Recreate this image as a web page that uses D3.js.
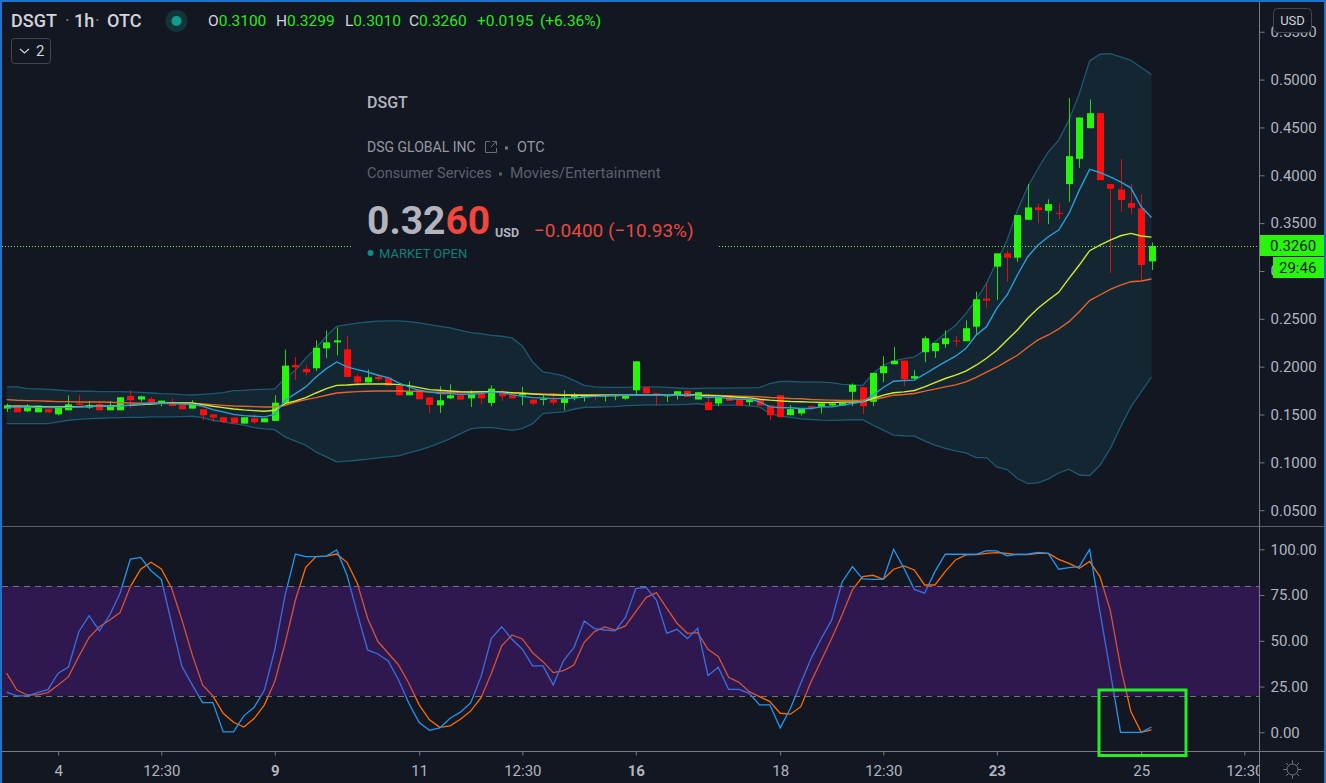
<!DOCTYPE html>
<html>
<head>
<meta charset="utf-8">
<script src="https://cdn.jsdelivr.net/npm/d3@7"></script>
<style>
  html, body { margin: 0; padding: 0; background: #131722; overflow: hidden; }
  text { font-family: Roboto, "Liberation Sans", sans-serif; }
</style>
</head>
<body>
<div id="chart"></div>
<script>
// candles, one value per hourly bar
const opens = [
  .1562,.1596,.1534,.1523,.1555,.1502,.1544,.1614,.1572,.1610,
  .1544,.1544,.1694,.1656,.1662,.1621,.1624,.1600,.1562,.1555,
  .1502,.1471,.1468,.1405,.1461,.1419,.1433,.1621,.2017,.1976,
  .1983,.2191,.2254,.2181,.1899,.1836,.1892,.1885,.1798,.1701,
  .1753,.1680,.1596,.1669,.1701,.1669,.1718,.1621,.1725,.1701,
  .1701,.1656,.1652,.1656,.1621,.1676,.1683,.1708,.1690,.1690,
  .1666,.1753,.1784,.1722,.1690,.1701,.1747,.1657,.1629,.1615,
  .1703,.1657,.1629,.1657,.1594,.1702,.1493,.1511,.1587,.1580,
  .1594,.1594,.1737,.1786,.1633,.1932,.2026,.2064,.1876,.2151,
  .2162,.2235,.2273,.2266,.2418,.2711,.3045,.3184,.3139,.3535,
  .3664,.3629,.3608,.3908,.4172,.4492,.4649,.3908,.3852,.3709,
  .3654,.3100];
const highs = [
  .1614,.1596,.1607,.1593,.1555,.1586,.1701,.1701,.1642,.1642,
  .1642,.1680,.1753,.1697,.1683,.1645,.1669,.1600,.1649,.1555,
  .1502,.1471,.1468,.1471,.1502,.1461,.1701,.2178,.2101,.2014,
  .2275,.2379,.2411,.2317,.1920,.1969,.1927,.1885,.1798,.1847,
  .1753,.1680,.1795,.1816,.1701,.1753,.1718,.1805,.1760,.1701,
  .1788,.1656,.1711,.1701,.1753,.1725,.1711,.1708,.1704,.1711,
  .1701,.2056,.1784,.1722,.1701,.1743,.1747,.1733,.1720,.1685,
  .1703,.1657,.1657,.1657,.1594,.1702,.1598,.1563,.1598,.1615,
  .1615,.1622,.1824,.1786,.1935,.2109,.2207,.2064,.1963,.2318,
  .2248,.2381,.2318,.2485,.2784,.2878,.3184,.3212,.3584,.3908,
  .3706,.3748,.3706,.4809,.4604,.4792,.4649,.3908,.4169,.3908,
  .3803,.3299];
const lows = [
  .1527,.1523,.1527,.1523,.1516,.1492,.1544,.1596,.1558,.1544,
  .1544,.1544,.1562,.1635,.1614,.1586,.1589,.1555,.1562,.1440,
  .1422,.1412,.1408,.1405,.1405,.1419,.1433,.1621,.1864,.1906,
  .1955,.2087,.2118,.1892,.1798,.1836,.1850,.1802,.1701,.1701,
  .1659,.1516,.1516,.1662,.1656,.1579,.1607,.1586,.1642,.1669,
  .1596,.1596,.1596,.1596,.1544,.1649,.1635,.1649,.1635,.1649,
  .1656,.1701,.1722,.1596,.1631,.1656,.1685,.1657,.1546,.1587,
  .1643,.1594,.1594,.1594,.1441,.1473,.1493,.1490,.1553,.1511,
  .1594,.1594,.1587,.1504,.1587,.1838,.2026,.1796,.1859,.2047,
  .2092,.2196,.2214,.2266,.2331,.2617,.2697,.2888,.3097,.3535,
  .3497,.3490,.3539,.3723,.4078,.4492,.3949,.2977,.3619,.3594,
  .2905,.3010];
const closes = [
  .1596,.1523,.1579,.1593,.1523,.1569,.1607,.1600,.1596,.1544,
  .1593,.1680,.1649,.1690,.1628,.1645,.1589,.1555,.1614,.1492,
  .1468,.1422,.1408,.1471,.1419,.1461,.1624,.2011,.1993,.1941,
  .2198,.2254,.2275,.1892,.1836,.1889,.1868,.1802,.1701,.1736,
  .1659,.1600,.1649,.1701,.1656,.1718,.1669,.1770,.1690,.1669,
  .1718,.1614,.1663,.1624,.1676,.1701,.1701,.1694,.1704,.1701,
  .1701,.2056,.1722,.1701,.1701,.1743,.1685,.1733,.1546,.1685,
  .1643,.1594,.1657,.1594,.1493,.1473,.1556,.1563,.1570,.1615,
  .1615,.1622,.1810,.1587,.1935,.2005,.2061,.1869,.1901,.2297,
  .2248,.2297,.2266,.2402,.2704,.2690,.3184,.3139,.3584,.3664,
  .3636,.3699,.3598,.4200,.4604,.4649,.3949,.3859,.3741,.3661,
  .3062,.3260];

// bollinger bands
const bbUpper = [
  .1788,.1788,.1770,.1767,.1763,.1756,.1746,.1743,.1743,.1739,
  .1739,.1739,.1736,.1732,.1725,.1718,.1715,.1708,.1704,.1711,
  .1718,.1729,.1750,.1753,.1760,.1763,.1767,.1879,.1962,.2088,
  .2192,.2318,.2422,.2440,.2454,.2467,.2475,.2478,.2478,.2471,
  .2457,.2440,.2422,.2405,.2380,.2356,.2346,.2328,.2318,.2300,
  .2216,.2049,.1945,.1927,.1903,.1857,.1805,.1788,.1784,.1784,
  .1784,.1788,.1788,.1788,.1784,.1777,.1772,.1772,.1775,.1775,
  .1775,.1779,.1779,.1782,.1824,.1845,.1845,.1841,.1841,.1838,
  .1834,.1814,.1810,.1803,.1928,.2015,.2061,.2085,.2102,.2172,
  .2259,.2346,.2433,.2555,.2700,.2871,.3097,.3323,.3636,.3880,
  .4071,.4245,.4367,.4576,.4854,.5195,.5265,.5272,.5237,.5202,
  .5126,.5053];
const bbLower = [
  .1405,.1405,.1405,.1405,.1405,.1422,.1440,.1450,.1457,.1461,
  .1464,.1468,.1471,.1471,.1475,.1475,.1475,.1478,.1482,.1468,
  .1440,.1422,.1405,.1388,.1363,.1349,.1342,.1266,.1221,.1179,
  .1109,.1057,.1005,.1012,.1022,.1033,.1047,.1057,.1067,.1099,
  .1127,.1161,.1203,.1248,.1301,.1349,.1363,.1363,.1349,.1335,
  .1353,.1405,.1509,.1520,.1527,.1555,.1576,.1576,.1579,.1582,
  .1593,.1596,.1600,.1600,.1600,.1603,.1605,.1615,.1598,.1598,
  .1598,.1598,.1591,.1580,.1511,.1483,.1469,.1455,.1448,.1441,
  .1438,.1441,.1445,.1445,.1389,.1337,.1285,.1278,.1274,.1225,
  .1180,.1145,.1119,.1098,.1050,.1050,.0952,.0925,.0831,.0778,
  .0785,.0827,.0889,.0928,.0868,.0862,.0970,.1144,.1370,.1579,
  .1736,.1892];

// moving averages
const maFast = [
  .1579,.1579,.1579,.1575,.1572,.1572,.1575,.1579,.1582,.1586,
  .1586,.1589,.1600,.1610,.1617,.1617,.1614,.1610,.1607,.1586,
  .1551,.1527,.1502,.1488,.1482,.1475,.1502,.1649,.1718,.1788,
  .1892,.1979,.2049,.1997,.1969,.1944,.1910,.1885,.1830,.1788,
  .1753,.1736,.1718,.1718,.1711,.1711,.1718,.1736,.1729,.1708,
  .1690,.1676,.1673,.1666,.1669,.1673,.1683,.1690,.1694,.1697,
  .1701,.1701,.1701,.1701,.1701,.1701,.1709,.1695,.1678,.1685,
  .1664,.1660,.1660,.1633,.1580,.1573,.1570,.1563,.1563,.1580,
  .1580,.1598,.1615,.1633,.1702,.1782,.1848,.1855,.1859,.1921,
  .1988,.2050,.2109,.2189,.2330,.2418,.2610,.2749,.2958,.3149,
  .3271,.3358,.3427,.3601,.3845,.4061,.4029,.3984,.3932,.3869,
  .3671,.3560];
const maMid = [
  .1586,.1586,.1586,.1582,.1579,.1579,.1582,.1582,.1586,.1586,
  .1589,.1593,.1596,.1603,.1610,.1617,.1621,.1621,.1621,.1603,
  .1586,.1572,.1558,.1548,.1541,.1534,.1544,.1614,.1642,.1676,
  .1725,.1770,.1805,.1809,.1816,.1819,.1819,.1819,.1812,.1802,
  .1781,.1760,.1753,.1746,.1739,.1736,.1739,.1739,.1736,.1729,
  .1722,.1715,.1708,.1704,.1701,.1701,.1701,.1701,.1701,.1701,
  .1701,.1701,.1701,.1701,.1701,.1701,.1709,.1702,.1699,.1695,
  .1688,.1681,.1674,.1660,.1650,.1643,.1636,.1633,.1629,.1626,
  .1626,.1629,.1629,.1633,.1667,.1702,.1727,.1737,.1751,.1789,
  .1834,.1876,.1911,.1953,.2015,.2088,.2171,.2279,.2383,.2505,
  .2610,.2697,.2777,.2923,.3062,.3212,.3271,.3323,.3368,.3393,
  .3365,.3354];
const maSlow = [
  .1656,.1649,.1645,.1642,.1638,.1635,.1635,.1631,.1631,.1631,
  .1628,.1624,.1621,.1617,.1617,.1617,.1617,.1617,.1617,.1610,
  .1603,.1596,.1589,.1586,.1582,.1579,.1579,.1596,.1631,.1656,
  .1676,.1701,.1725,.1732,.1739,.1743,.1746,.1746,.1746,.1743,
  .1743,.1736,.1732,.1732,.1732,.1736,.1736,.1739,.1732,.1725,
  .1722,.1718,.1715,.1711,.1708,.1708,.1704,.1704,.1704,.1701,
  .1701,.1701,.1701,.1701,.1701,.1701,.1706,.1702,.1702,.1699,
  .1695,.1692,.1688,.1685,.1678,.1674,.1667,.1664,.1657,.1653,
  .1650,.1647,.1647,.1650,.1657,.1678,.1702,.1709,.1720,.1744,
  .1765,.1789,.1810,.1841,.1889,.1942,.1994,.2057,.2119,.2203,
  .2279,.2331,.2394,.2470,.2575,.2690,.2749,.2808,.2853,.2888,
  .2895,.2916];

// stochastic pane
const stochK = [
  21.9,19.9,19.9,21.7,23.3,32.3,35.7,55.0,63.7,55.4,
  64.1,76.0,94.7,95.6,88.3,83.6,59.6,35.9,25.9,16.2,
  16.2,0.2,0.2,9.0,13.7,23.1,45.0,75.0,97.4,96.0,
  96.0,96.3,99.6,86.0,65.0,45.0,42.8,39.0,28.6,15.9,
  5.3,1.1,2.4,7.7,11.0,16.2,30.4,51.4,57.7,50.8,
  45.4,36.3,36.3,25.9,39.2,46.3,60.8,56.7,55.9,55.4,
  62.8,78.5,79.2,72.3,54.1,56.3,51.2,56.8,31.0,35.5,
  23.5,23.5,21.3,15.0,15.0,2.4,13.1,26.8,40.4,51.4,
  61.4,82.0,90.5,83.8,83.6,83.6,100,89.6,78.1,76.0,
  87.8,97.4,97.3,97.3,97.3,99.3,99.1,96.5,97.3,97.3,
  98.3,97.8,89.1,90.0,90.5,100,65.9,33.2,0,0,
  0,2.9];
const stochD = [
  32.3,23.1,20.4,20.4,21.7,25.9,30.4,41.4,51.9,57.7,
  61.4,65.4,79.6,89.1,92.9,89.2,78.7,61.4,42.3,25.9,
  19.9,10.4,5.5,2.9,7.5,15.0,27.7,48.6,72.3,90.1,
  96.0,96.3,97.4,92.9,81.4,62.3,49.6,43.2,36.8,26.8,
  15.0,6.8,2.7,3.5,7.1,11.7,18.9,32.3,47.2,53.2,
  51.0,43.5,38.6,32.6,33.7,36.8,49.2,55.0,57.6,55.9,
  58.1,65.9,73.6,76.3,67.8,59.6,54.1,54.5,45.4,41.4,
  30.1,27.3,22.2,19.5,16.8,10.4,9.9,14.0,27.7,39.5,
  51.4,64.1,77.8,85.1,85.8,83.6,89.1,90.9,88.7,80.5,
  80.5,87.8,94.2,96.9,97.1,97.8,98.2,97.8,97.1,97.1,
  97.8,97.8,94.5,92.3,89.6,93.4,85.1,66.8,35.9,11.3,
  0,1.3];

// axis ticks
const priceTicks = [0.05, 0.10, 0.15, 0.20, 0.25, 0.30, 0.35, 0.40, 0.45, 0.50, 0.55];
const stochTicks = [0, 25, 50, 75, 100];
const timeTickBars = [5, 15, 26, 40, 50, 61, 75, 85, 96, 110, 120];
const timeTickLabels = ["4", "12:30", "9", "11", "12:30", "16", "18", "12:30", "23", "25", "12:30"];
const timeTickBold = ["9", "16", "23"];
const lastPrice = 0.3260;
const stochBand = [20, 80];

const width = 1326, height = 783;
const axisX = 1259.5, paneSplit = 526.5, paneBottom = 751.5;
const bg = "#131722", axisColor = "#787b86", labelColor = "#b2b5be";
const up = "#27f50c", down = "#fb0d0d";

const svg = d3.select("#chart").append("svg")
  .attr("width", width).attr("height", height)
  .style("display", "block");

svg.append("rect").attr("width", width).attr("height", height).attr("fill", bg);

const defs = svg.append("defs");
defs.append("clipPath").attr("id", "plot-clip")
  .append("rect").attr("x", 2).attr("y", 0).attr("width", axisX - 2).attr("height", height);

// scales
const x = d3.scaleLinear().domain([0, 111]).range([6.6, 1151.5]);
const yPrice = d3.scaleLinear().domain([0.5, 0.05]).range([79.6, 510.2]);
const yStoch = d3.scaleLinear().domain([100, 0]).range([549.3, 732.3]);

const bars = d3.range(opens.length);

// price pane: bands first, then candles, then averages
const bandArea = d3.area().x(i => x(i)).y0(i => yPrice(bbLower[i])).y1(i => yPrice(bbUpper[i]));
svg.append("path").datum(bars).attr("d", bandArea).attr("fill", "#142631");

const lineOf = (series, y) => d3.line().x((d, i) => x(i)).y(d => y(d))(series);

[bbUpper, bbLower].forEach(s => {
  svg.append("path").attr("d", lineOf(s, yPrice))
    .attr("fill", "none").attr("stroke", "#1c5a72").attr("stroke-width", 1.3);
});

const candle = svg.append("g").selectAll("g").data(bars).join("g");
candle.append("line")
  .attr("x1", i => Math.round(x(i)) + 0.5).attr("x2", i => Math.round(x(i)) + 0.5)
  .attr("y1", i => yPrice(highs[i])).attr("y2", i => yPrice(lows[i]))
  .attr("stroke", i => closes[i] >= opens[i] ? up : down)
  .attr("stroke-opacity", 0.85);
candle.append("rect")
  .attr("x", i => Math.round(x(i)) - 3)
  .attr("width", 7)
  .attr("y", i => yPrice(Math.max(opens[i], closes[i])))
  .attr("height", i => Math.max(1, Math.abs(yPrice(opens[i]) - yPrice(closes[i]))))
  .attr("fill", i => closes[i] >= opens[i] ? up : down);

[[maSlow, "#e8622a"], [maMid, "#d2ec2e"], [maFast, "#2a9ed8"]].forEach(([s, c]) => {
  svg.append("path").attr("d", lineOf(s, yPrice))
    .attr("fill", "none").attr("stroke", c).attr("stroke-width", 1.4);
});

// stochastic pane, the band is painted over the lines like on the original
svg.append("path").attr("d", lineOf(stochD, yStoch))
  .attr("fill", "none").attr("stroke", "#ff6d00").attr("stroke-width", 1.3);
svg.append("path").attr("d", lineOf(stochK, yStoch))
  .attr("fill", "none").attr("stroke", "#2196f3").attr("stroke-width", 1.3);
svg.append("rect")
  .attr("x", 2).attr("width", axisX - 2)
  .attr("y", yStoch(stochBand[1])).attr("height", yStoch(stochBand[0]) - yStoch(stochBand[1]))
  .attr("fill", "rgb(109,26,187)").attr("fill-opacity", 0.3);
stochBand.forEach(v => {
  svg.append("line")
    .attr("x1", 2).attr("x2", axisX)
    .attr("y1", Math.round(yStoch(v)) + 0.5).attr("y2", Math.round(yStoch(v)) + 0.5)
    .attr("stroke", "#77707f").attr("stroke-dasharray", "6 5");
});

// last price line, hidden behind the symbol card in the middle
const priceY = Math.round(yPrice(lastPrice)) + 0.5;
svg.append("line").attr("x1", 2).attr("x2", axisX).attr("y1", priceY).attr("y2", priceY)
  .attr("stroke", "#7fe62f").attr("stroke-dasharray", "1 2");
svg.append("rect").attr("x", 353).attr("y", priceY - 4).attr("width", 364).attr("height", 8).attr("fill", bg);

// frame lines
svg.append("line").attr("x1", 2).attr("x2", 1324).attr("y1", paneSplit).attr("y2", paneSplit).attr("stroke", "#5d606b");
svg.append("line").attr("x1", 2).attr("x2", 1324).attr("y1", paneBottom).attr("y2", paneBottom).attr("stroke", axisColor);
svg.append("line").attr("x1", axisX).attr("x2", axisX).attr("y1", 0).attr("y2", height).attr("stroke", axisColor);

// axes
const styleAxis = g => {
  g.select(".domain").remove();
  g.selectAll(".tick line").attr("stroke", axisColor);
  g.selectAll(".tick text").attr("fill", labelColor)
    .style("font-size", "15px").style("font-family", "Roboto, sans-serif");
};

svg.append("g").attr("transform", `translate(${axisX},0)`)
  .call(d3.axisRight(yPrice).tickValues(priceTicks).tickFormat(d3.format(".4f")).tickSize(5).tickPadding(6))
  .call(styleAxis);
svg.append("g").attr("transform", `translate(${axisX},0)`)
  .call(d3.axisRight(yStoch).tickValues(stochTicks).tickFormat(d3.format(".2f")).tickSize(5).tickPadding(6))
  .call(styleAxis);

const timeAxis = svg.append("g").attr("clip-path", "url(#plot-clip)")
  .append("g").attr("transform", `translate(0,${paneBottom})`)
  .call(d3.axisBottom(x).tickValues(timeTickBars)
    .tickFormat((d, i) => timeTickLabels[i]).tickSize(4).tickPadding(10))
  .call(styleAxis);
timeAxis.selectAll(".tick text")
  .style("font-weight", (d, i) => timeTickBold.includes(timeTickLabels[i]) ? 700 : 400);

// price tags on the axis
svg.append("rect").attr("x", 1260).attr("y", 235).attr("width", 64).attr("height", 21).attr("fill", up);
svg.append("text").attr("x", 1270).attr("y", 250.5).attr("fill", "#131722").style("font-size", "15px").text(d3.format(".4f")(lastPrice));
svg.append("rect").attr("x", 1273).attr("y", 257).attr("width", 51).attr("height", 21).attr("fill", up);
svg.append("text").attr("x", 1279).attr("y", 272.5).attr("fill", "#131722").style("font-size", "15px").text("29:46");

// currency button
svg.append("rect").attr("x", 1273.5).attr("y", 8.5).attr("width", 38).attr("height", 24).attr("rx", 4)
  .attr("fill", "#131722").attr("stroke", "#434651");
svg.append("text").attr("x", 1292.5).attr("y", 25).attr("text-anchor", "middle")
  .attr("fill", "#d1d4dc").style("font-size", "13px").text("USD");

// header legend
const putText = (t, px, py, size, fill, weight) => svg.append("text")
  .attr("x", px).attr("y", py).attr("fill", fill)
  .style("font-size", size + "px").style("font-weight", weight || 400).text(t);

putText("DSGT", 11, 27, 18, "#d1d4dc", 500);
putText("·", 65, 27, 18, "#787b86");
putText("1h", 74, 27, 18, "#d1d4dc", 500);
putText("·", 95, 27, 18, "#787b86");
putText("OTC", 107, 27, 18, "#d1d4dc", 500);
svg.append("circle").attr("cx", 176.5).attr("cy", 21).attr("r", 11).attr("fill", "#123539");
svg.append("circle").attr("cx", 176.5).attr("cy", 21).attr("r", 5).attr("fill", "#0f9d8e");

const legendGreen = "#2be81f";
[["O", "0.3100", 208], ["H", "0.3299", 276], ["L", "0.3010", 345], ["C", "0.3260", 409]].forEach(([k, v, px]) => {
  const t = putText(k, px, 26, 15.5, "#d1d4dc");
  t.append("tspan").attr("fill", legendGreen).text(v);
});
putText("+0.0195", 477, 26, 15.5, legendGreen);
putText("(+6.36%)", 540, 26, 15.5, legendGreen);

svg.append("rect").attr("x", 11.5).attr("y", 38.5).attr("width", 39).attr("height", 25).attr("rx", 3)
  .attr("fill", "none").attr("stroke", "#434651");
svg.append("path").attr("d", "M20 49 L24.5 53 L29 49").attr("fill", "none").attr("stroke", "#d1d4dc").attr("stroke-width", 1.2);
putText("2", 36, 56, 15, "#d1d4dc");

// symbol card
putText("DSGT", 367, 108, 16, "#b2b5be", 500);
putText("DSG GLOBAL INC", 367, 152, 14, "#9598a1");
svg.append("path").attr("d", "M490 141.5 H485.5 V152.5 H496.5 V148 M491 147 L496.5 141.5 M492.5 141.5 H496.5 V145.5")
  .attr("fill", "none").attr("stroke", "#6a6d78");
svg.append("rect").attr("x", 505).attr("y", 146.5).attr("width", 3).attr("height", 3).attr("fill", "#787b86");
putText("OTC", 517, 152, 14.5, "#9598a1");
putText("Consumer Services", 367, 178, 14.5, "#5d606b");
svg.append("rect").attr("x", 499).attr("y", 172.5).attr("width", 3).attr("height", 3).attr("fill", "#5d606b");
putText("Movies/Entertainment", 510, 178, 15.2, "#5d606b");

const bigPrice = putText("0.32", 367, 234, 39, "#b2b5be", 700);
bigPrice.append("tspan").attr("fill", "#f0463c").text("60");
putText("USD", 495, 237, 12.5, "#b2b5be", 700);
putText("\u22120.0400 (\u221210.93%)", 534, 237, 19, "#e8493f");
svg.append("circle").attr("cx", 370.5).attr("cy", 253).attr("r", 3).attr("fill", "#0f8f84");
putText("MARKET OPEN", 379, 258, 13, "#0f8078");

// settings gear on the corner
const gear = svg.append("g").attr("transform", "translate(1292.5,769.5)")
  .attr("fill", "none").attr("stroke", "#787b86");
gear.append("circle").attr("r", 5.5);
d3.range(8).forEach(k => {
  const a = k * Math.PI / 4;
  gear.append("line")
    .attr("x1", 6 * Math.cos(a)).attr("y1", 6 * Math.sin(a))
    .attr("x2", 9 * Math.cos(a)).attr("y2", 9 * Math.sin(a));
});

// hand drawn green box over the last bars of the stochastic
svg.append("rect").attr("x", 1099).attr("y", 690).attr("width", 87).attr("height", 65.5)
  .attr("fill", "none").attr("stroke", "#22ee22").attr("stroke-width", 3);

// window border
svg.append("path").attr("d", `M1 ${height} V1 H${width - 1} V${height}`)
  .attr("fill", "none").attr("stroke", "#1c74cc").attr("stroke-width", 2);
</script>
</body>
</html>
